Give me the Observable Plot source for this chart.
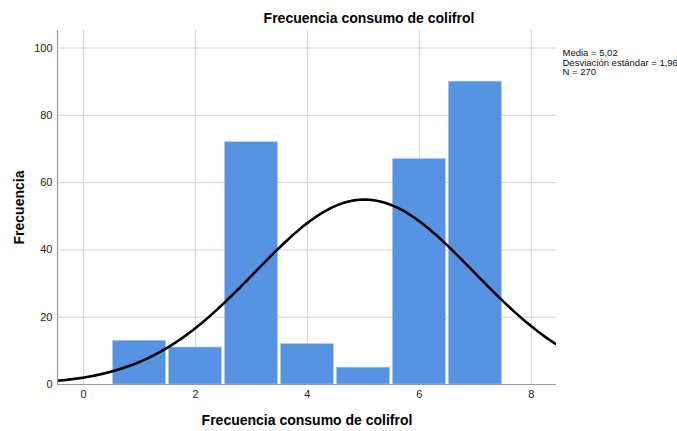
<!DOCTYPE html>
<html>
<head>
<meta charset="utf-8">
<script src="https://cdn.jsdelivr.net/npm/d3@7"></script>
<script src="https://cdn.jsdelivr.net/npm/@observablehq/plot@0.6"></script>
<style>
  html, body { margin: 0; padding: 0; background: #fff; }
  svg { overflow: visible; }
</style>
</head>
<body>
<div id="chart"></div>
<script>
// Data
const values = [1, 2, 3, 4, 5, 6, 7];
const counts = [13, 11, 72, 12, 5, 67, 90];
const xTicks = [0, 2, 4, 6, 8];
const yTicks = [0, 20, 40, 60, 80, 100];
const mean = 5.02;
const sd = 1.96;
const n = 270;
const title = "Frecuencia consumo de colifrol";
const xLabel = "Frecuencia consumo de colifrol";
const yLabel = "Frecuencia";
const legendLines = ["Media = 5,02", "Desviación estándar = 1,96", "N = 270"];

const xDomain = [-0.465, 8.45];
const yDomain = [0, 105.2];

const bars = values.map((v, i) => ({v, c: counts[i]}));

// fitted normal curve (N * binwidth * pdf) from the stated mean / sd / N
const curve = d3.range(xDomain[0], xDomain[1] + 0.001, 0.05).map(x => ({
  x,
  y: n * 1 / (sd * Math.sqrt(2 * Math.PI)) * Math.exp(-((x - mean) ** 2) / (2 * sd * sd))
}));

const font = "Liberation Sans, Arial, sans-serif";

const chart = Plot.plot({
  width: 677,
  height: 431,
  marginLeft: 57,
  marginRight: 121,
  marginTop: 30,
  marginBottom: 47,
  style: {fontFamily: font, fontSize: "11px", color: "#222", background: "#fff"},
  x: {domain: xDomain, label: null},
  y: {domain: yDomain, label: null},
  marks: [
    Plot.gridX(xTicks, {stroke: "#d2d2d2", strokeOpacity: 1, strokeWidth: 1}),
    Plot.gridY(yTicks, {stroke: "#d2d2d2", strokeOpacity: 1, strokeWidth: 1}),
    Plot.rectY(bars, {
      x1: d => d.v - 0.5, x2: d => d.v + 0.5, y: "c",
      fill: "#5694e3", stroke: "#a9c9f0", strokeWidth: 0.6,
      insetLeft: 1.5, insetRight: 1.5
    }),
    Plot.line(curve, {x: "x", y: "y", stroke: "#000", strokeWidth: 2.6, clip: true}),
    Plot.ruleX([xDomain[0]], {stroke: "#9a9a9a", strokeWidth: 1.2}),
    Plot.ruleY([0], {stroke: "#9a9a9a", strokeWidth: 1.2}),
    Plot.axisX(xTicks, {tickSize: 0, tickPadding: 6, fontSize: 11, fill: "#222", label: null}),
    Plot.axisY(yTicks, {tickSize: 0, tickPadding: 5, fontSize: 11, fill: "#222", label: null}),
    Plot.text([title], {frameAnchor: "top", dx: 62, dy: -12, lineAnchor: "middle",
      textAnchor: "middle", fontSize: 14, fontWeight: "bold", fill: "#000"}),
    Plot.text([xLabel], {frameAnchor: "bottom", dx: 0, dy: 36, lineAnchor: "middle",
      textAnchor: "middle", fontSize: 14, fontWeight: "bold", fill: "#000"}),
    Plot.text([yLabel], {frameAnchor: "left", dx: -38, rotate: -90, lineAnchor: "middle",
      textAnchor: "middle", fontSize: 14, fontWeight: "bold", fill: "#000"}),
    Plot.text([legendLines.join("\n")], {frameAnchor: "top-right", dx: 6, dy: 19,
      textAnchor: "start", lineAnchor: "top", lineHeight: 1.0,
      fontSize: 9.5, fill: "#111"})
  ]
});

document.getElementById("chart").appendChild(chart);
</script>
</body>
</html>
